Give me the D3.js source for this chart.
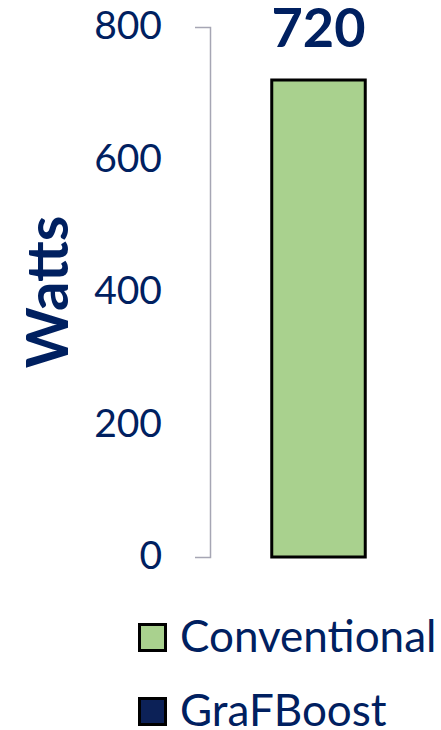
<!DOCTYPE html>
<meta charset="utf-8">
<style>
  body { margin: 0; background: #fff; }
  text { font-family: Lato, "Open Sans", sans-serif; fill: #002060; }
  .tick text { font-size: 39px; }
  .axis path, .axis line { stroke: #a6a6b4; stroke-width: 1.5; }
  .ylabel { font-size: 58px; font-weight: bold; }
  .value { font-size: 54px; font-weight: bold; }
  .legend text { font-size: 44px; }
</style>
<svg width="441" height="730"></svg>
<script src="https://d3js.org/d3.v7.min.js"></script>
<script>
// data
var categories = ["Conventional"];
var values = [720];
var seriesNames = ["Conventional", "GraFBoost"];
var seriesColors = ["#a9d18e", "#0c2157"];
var yTicks = [0, 200, 400, 600, 800];

var svg = d3.select("svg");

var y = d3.scaleLinear()
    .domain([0, 800])
    .range([557, 27]);

var x = d3.scaleBand()
    .domain(categories)
    .range([225, 412])
    .paddingInner(0)
    .paddingOuter(0.5);

// y axis
var yAxis = svg.append("g")
    .attr("class", "axis")
    .attr("transform", "translate(210,0)")
    .call(d3.axisLeft(y).tickValues(yTicks).tickSize(15).tickSizeOuter(15).tickPadding(33));
yAxis.select(".domain").attr("fill", "none");
yAxis.selectAll(".tick line").remove();
yAxis.selectAll(".tick text").attr("dy", "0.3em").style("fill", "#002060");

svg.append("text")
    .attr("class", "ylabel")
    .attr("transform", "translate(68,292) rotate(-90)")
    .attr("text-anchor", "middle")
    .text("Watts");

// bars
svg.selectAll(".bar")
    .data(values)
    .enter().append("rect")
    .attr("class", "bar")
    .attr("x", function(d, i) { return x(categories[i]); })
    .attr("width", x.bandwidth())
    .attr("y", function(d) { return y(d); })
    .attr("height", function(d) { return y(0) - y(d); })
    .attr("fill", seriesColors[0])
    .attr("stroke", "#000")
    .attr("stroke-width", 3);

svg.selectAll(".value")
    .data(values)
    .enter().append("text")
    .attr("class", "value")
    .attr("x", function(d, i) { return x(categories[i]) + x.bandwidth() / 2; })
    .attr("y", function(d) { return y(d) - 33; })
    .attr("text-anchor", "middle")
    .text(function(d) { return d; });

// legend
var legend = svg.append("g").attr("class", "legend")
    .selectAll("g")
    .data(seriesNames)
    .enter().append("g")
    .attr("transform", function(d, i) { return "translate(138," + (623 + i * 74) + ")"; });
legend.append("rect")
    .attr("x", 1.5).attr("y", 1.5)
    .attr("width", 26).attr("height", 26)
    .attr("fill", function(d, i) { return seriesColors[i]; })
    .attr("stroke", "#000")
    .attr("stroke-width", 3);
legend.append("text")
    .attr("x", 42)
    .attr("y", 29)
    .text(function(d) { return d; });
</script>
